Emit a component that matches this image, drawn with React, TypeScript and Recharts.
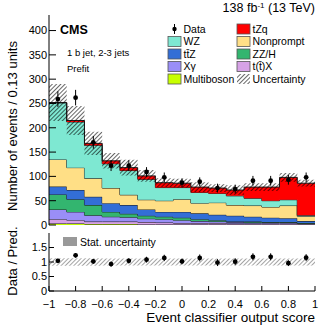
import React from "react";
import { Area, ComposedChart, ErrorBar, Scatter, XAxis, YAxis } from "recharts";

// bin edges and centres of the classifier score (15 bins on [-1, 1])
const binEdges = [-1, -0.8667, -0.7333, -0.6, -0.4667, -0.3333, -0.2, -0.0667, 0.0667, 0.2, 0.3333, 0.4667, 0.6, 0.7333, 0.8667, 1];
const binCenters = [-0.9333, -0.8, -0.6667, -0.5333, -0.4, -0.2667, -0.1333, 0, 0.1333, 0.2667, 0.4, 0.5333, 0.6667, 0.8, 0.9333];

// stacked predictions, bottom to top
const multiboson = [3, 3, 2, 2, 2, 1, 1, 1, 1, 1, 1, 1, 1, 1, 0.5];
const ttX = [9, 7, 5, 5, 5, 5, 4, 3, 3, 3, 2, 2, 2, 2, 1.5];
const xGamma = [20, 17, 13, 10, 9, 7, 7, 6, 4, 3, 3, 2, 2, 2, 1];
const zzH = [31, 26, 21, 10, 7, 6, 5, 5, 4, 3, 1, 2, 1, 1, 1];
const ttZ = [16, 19, 17, 18, 18, 13, 10, 12, 12, 11, 12, 10, 9, 8, 4];
const nonprompt = [56, 46, 38, 31, 21, 20, 23, 26, 21, 25, 22, 23, 22, 26, 10];
const wz = [116, 94, 68, 50, 50, 42, 27, 24, 22, 19, 19, 15, 13, 12, 2];
const tZq = [1, 3, 4, 6, 6, 7, 10, 9, 11, 11, 12, 23, 28, 46, 66];
const uncertainty = [38, 30, 24, 16, 16, 12, 9, 9, 10, 8, 10, 8, 8, 9, 7];

const observed = [259, 262, 170, 122, 122, 109, 98, 87, 89, 76, 74, 91, 91, 93, 98];
const observedErr = [16, 16, 13, 11, 11, 10, 10, 9, 9, 9, 9, 10, 10, 10, 10];

const ratio = [1.04, 1.23, 1.02, 0.93, 1.04, 1.08, 1.14, 1.02, 1.14, 0.98, 1.01, 1.18, 1.18, 0.96, 1.15];
const ratioErr = [0.07, 0.08, 0.08, 0.09, 0.09, 0.1, 0.11, 0.1, 0.12, 0.12, 0.12, 0.12, 0.12, 0.1, 0.12];
const ratioBand = [0.13, 0.13, 0.13, 0.12, 0.12, 0.12, 0.12, 0.12, 0.12, 0.12, 0.12, 0.12, 0.12, 0.12, 0.12];

const xTicks = [-1, -0.8, -0.6, -0.4, -0.2, 0, 0.2, 0.4, 0.6, 0.8, 1];
const yTicks = [0, 50, 100, 150, 200, 250, 300, 350, 400];
const ratioTicks = [0, 0.5, 1, 1.5];

const xMinor = Array.from({ length: 51 }, (_, i) => -1 + i * 0.04);
const yMinor = Array.from({ length: 44 }, (_, i) => i * 10);
const ratioMinor = Array.from({ length: 21 }, (_, i) => i * 0.1);

const stack = [
  { key: "multiboson", values: multiboson, fill: "#c8ff00" },
  { key: "ttX", values: ttX, fill: "#d6a2e6" },
  { key: "xGamma", values: xGamma, fill: "#9a8ef7" },
  { key: "zzH", values: zzH, fill: "#33b56f" },
  { key: "ttZ", values: ttZ, fill: "#336ed6" },
  { key: "nonprompt", values: nonprompt, fill: "#ffdf86" },
  { key: "wz", values: wz, fill: "#7ee8d2" },
  { key: "tZq", values: tZq, fill: "#ff0000" },
];

const lastBin = binCenters.length - 1;

const edgeRows = binEdges.map((x, i) => {
  const b = Math.min(i, lastBin);
  const row: Record<string, number> = { x };
  let total = 0;
  stack.forEach((s) => {
    row[s.key] = s.values[b];
    total += s.values[b];
  });
  row.total = total;
  row.unc = uncertainty[b];
  row.band = ratioBand[b];
  return row;
});

const dataPoints = binCenters.map((x, i) => ({ x, y: observed[i], err: observedErr[i] }));
const ratioPoints = binCenters.map((x, i) => ({ x, y: ratio[i], err: ratioErr[i] }));

const dot = (props: any) => <circle cx={props.cx} cy={props.cy} r={2.4} fill="#000" />;

const fmtX = (v: number) => (v < 0 ? "\u2212" + String(Math.abs(v)) : String(v));

const FONT = "'Liberation Sans', Arial, Helvetica, sans-serif";

function frameAxes(xDomain: number[], yDomain: number[], yMajor: number[], yMin: number[], showX: boolean, major: number, minor: number) {
  const common = { type: "number" as const, allowDataOverflow: true, axisLine: false, tick: false as const, tickLine: { stroke: "#000" } };
  return [
    <XAxis key="xb" xAxisId="b" dataKey="x" type="number" domain={xDomain} ticks={xTicks} allowDataOverflow height={showX ? 41 : 0}
      axisLine={{ stroke: "#000" }} tickLine={{ stroke: "#000" }} tickSize={-major} tickMargin={major + 9}
      tick={showX ? { fill: "#000", fontSize: 11 } : false} tickFormatter={fmtX} interval={0} />,
    <XAxis key="xbm" xAxisId="bm" dataKey="x" {...common} domain={xDomain} ticks={xMinor} height={0} tickSize={-minor} interval={0} />,
    <XAxis key="xt" xAxisId="t" dataKey="x" {...common} orientation="top" domain={xDomain} ticks={xTicks} height={0}
      axisLine={{ stroke: "#000" }} tickSize={-major} interval={0} />,
    <XAxis key="xtm" xAxisId="tm" dataKey="x" {...common} orientation="top" domain={xDomain} ticks={xMinor} height={0} tickSize={-minor} interval={0} />,
    <YAxis key="yl" yAxisId="l" type="number" domain={yDomain} ticks={yMajor} allowDataOverflow width={49}
      axisLine={{ stroke: "#000" }} tickLine={{ stroke: "#000" }} tickSize={-major} tickMargin={major + 2}
      tick={{ fill: "#000", fontSize: 11 }} interval={0} />,
    <YAxis key="ylm" yAxisId="lm" {...common} domain={yDomain} ticks={yMin} width={0} tickSize={-minor} interval={0} />,
    <YAxis key="yr" yAxisId="r" {...common} orientation="right" domain={yDomain} ticks={yMajor} width={0}
      axisLine={{ stroke: "#000" }} tickSize={-major} interval={0} />,
    <YAxis key="yrm" yAxisId="rm" {...common} orientation="right" domain={yDomain} ticks={yMin} width={0} tickSize={-minor} interval={0} />,
  ];
}

const legendCol1 = [
  { label: "Data", fill: "data" },
  { label: "WZ", fill: "#7ee8d2" },
  { label: "t\u0074\u0304Z", fill: "#336ed6" },
  { label: "X\u03b3", fill: "#9a8ef7" },
  { label: "Multiboson", fill: "#c8ff00" },
];
const legendCol2 = [
  { label: "tZq", fill: "#ff0000" },
  { label: "Nonprompt", fill: "#ffdf86" },
  { label: "ZZ/H", fill: "#33b56f" },
  { label: "t(t\u0304)X", fill: "#d6a2e6" },
  { label: "Uncertainty", fill: "url(#hatch)" },
];
const rowY = [29, 41.5, 54, 66.5, 79];

function Swatch({ x, y, fill }: { x: number; y: number; fill: string }) {
  if (fill === "data") {
    return (
      <g>
        <line x1={x + 6.5} x2={x + 6.5} y1={y - 5} y2={y + 5} stroke="#000" strokeWidth={1} />
        <circle cx={x + 6.5} cy={y} r={2.2} fill="#000" />
      </g>
    );
  }
  return <rect x={x} y={y - 5} width={13} height={10} fill={fill} stroke={fill.startsWith("url") ? "none" : "#555"} strokeWidth={0.8} />;
}

export default function App() {
  return (
    <div style={{ position: "absolute", left: 0, top: 0, width: 332, height: 332, background: "#fff", fontFamily: FONT }}>
      <svg width={0} height={0} style={{ position: "absolute" }}>
        <defs>
          <pattern id="hatch" width={3} height={3} patternUnits="userSpaceOnUse" patternTransform="rotate(45)">
            <line x1={0} y1={0} x2={0} y2={3} stroke="#000" strokeWidth={1.2} />
          </pattern>
          <pattern id="hatchGrey" width={3} height={3} patternUnits="userSpaceOnUse" patternTransform="rotate(45)">
            <line x1={0} y1={0} x2={0} y2={3} stroke="#666" strokeWidth={1.2} />
          </pattern>
        </defs>
      </svg>

      <div style={{ position: "absolute", left: 0, top: 0 }}>
        <ComposedChart width={332} height={232} data={edgeRows} margin={{ top: 15, right: 17, bottom: 7, left: 0 }}>
          {frameAxes([-1, 1], [0, 432], yTicks, yMinor, false, 7, 4)}
          {stack.map((s) => (
            <Area key={s.key} xAxisId="b" yAxisId="l" type="stepAfter" dataKey={s.key} stackId="mc"
              fill={s.fill} fillOpacity={1} stroke="#1a1a1a" strokeWidth={1} isAnimationActive={false} />
          ))}
          <Area xAxisId="b" yAxisId="l" type="stepAfter" dataKey={(d: any) => [d.total - d.unc, d.total + d.unc]}
            fill="url(#hatch)" fillOpacity={1} stroke="none" isAnimationActive={false} />
          <Scatter xAxisId="b" yAxisId="l" data={dataPoints} dataKey="y" shape={dot} isAnimationActive={false}>
            <ErrorBar dataKey="err" direction="y" width={0} stroke="#000" strokeWidth={1} />
          </Scatter>
        </ComposedChart>
      </div>

      <div style={{ position: "absolute", left: 0, top: 220 }}>
        <ComposedChart width={332} height={112} data={edgeRows} margin={{ top: 13, right: 17, bottom: 0, left: 0 }}>
          {frameAxes([-1, 1], [0, 2], ratioTicks, ratioMinor, true, 5, 3)}
          <Area xAxisId="b" yAxisId="l" type="stepAfter" dataKey={(d: any) => [1 - d.band, 1 + d.band]}
            fill="url(#hatchGrey)" fillOpacity={1} stroke="none" isAnimationActive={false} />
          <Scatter xAxisId="b" yAxisId="l" data={ratioPoints} dataKey="y" shape={dot} isAnimationActive={false}>
            <ErrorBar dataKey="err" direction="y" width={0} stroke="#000" strokeWidth={1} />
          </Scatter>
        </ComposedChart>
      </div>

      <svg width={332} height={332} style={{ position: "absolute", left: 0, top: 0, pointerEvents: "none" }} fontFamily={FONT}>
        <text x={315} y={12} textAnchor="end" fontSize={12.5} fill="#000">
          138 fb<tspan dy={-4.5} fontSize={8}>-1</tspan>
          <tspan dy={4.5}> (13 TeV)</tspan>
        </text>
        <text x={60} y={33.5} fontSize={12.5} fontWeight="bold" fill="#000">CMS</text>
        <text x={67} y={56} fontSize={9.5} fill="#000">1 b jet, 2-3 jets</text>
        <text x={67} y={72} fontSize={9.5} fill="#000">Prefit</text>

        {legendCol1.map((e, i) => (
          <g key={e.label}>
            <Swatch x={168} y={rowY[i]} fill={e.fill} />
            <text x={183.5} y={rowY[i] + 3.8} fontSize={10.5} fill="#000">{e.label}</text>
          </g>
        ))}
        {legendCol2.map((e, i) => (
          <g key={e.label}>
            <Swatch x={237} y={rowY[i]} fill={e.fill} />
            <text x={252.5} y={rowY[i] + 3.8} fontSize={10.5} fill="#000">{e.label}</text>
          </g>
        ))}

        <rect x={63} y={237} width={14} height={9} fill="#999" />
        <text x={80} y={245.5} fontSize={10.5} fill="#000">Stat. uncertainty</text>

        <text transform="translate(16.5,126) rotate(-90)" textAnchor="middle" fontSize={13} fill="#000">
          Number of events / 0.13 units
        </text>
        <text transform="translate(16.5,261) rotate(-90)" textAnchor="middle" fontSize={13} fill="#000">
          Data / Pred.
        </text>
        <text x={315} y={322} textAnchor="end" fontSize={13.5} fill="#000">Event classifier output score</text>
      </svg>
    </div>
  );
}
